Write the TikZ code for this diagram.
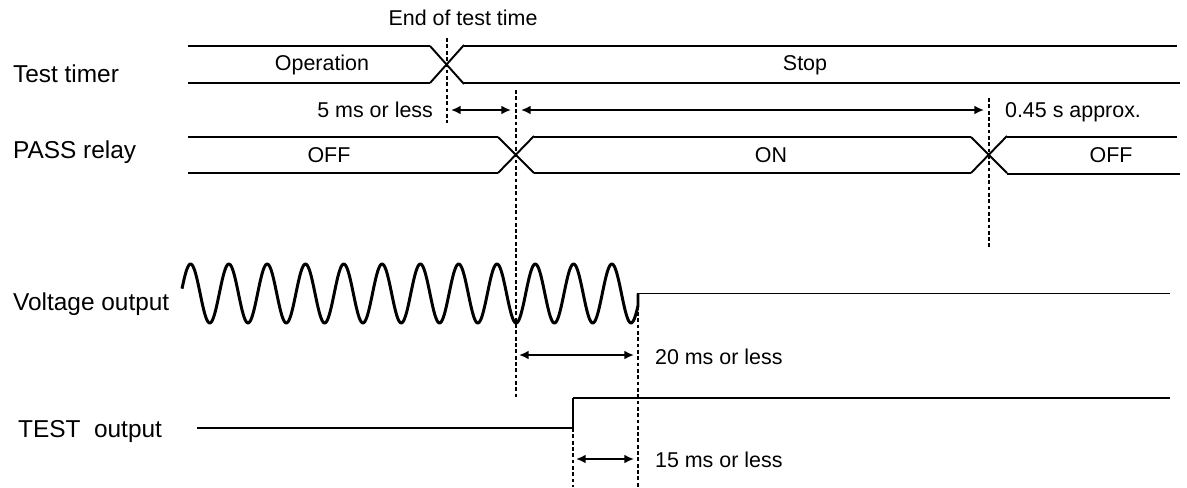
\documentclass[tikz,border=0pt]{standalone}
\usepackage{fontspec}
\setmainfont{Liberation Sans}
\usetikzlibrary{positioning, arrows.meta}
\tikzstyle{hiline} = [line width=1.7pt]
\tikzstyle{loline} = [line width=1.1pt]

\begin{document}
\begin{tikzpicture}[x=0.02cm, y=-0.02cm,
    every node/.style={font=\fontsize{12.2}{14.6}\selectfont, inner sep=1pt},
    edge/.style={line width=1.1pt},
    wave/.style={line width=1.7pt, line join=round},
    guide/.style={line width=0.9pt, dash pattern=on 2.2pt off 1.4pt},
    dim/.style={{Latex[length=5.5pt,width=5pt]}-{Latex[length=5.5pt,width=5pt]}, line width=1pt},
    siglabel/.style={anchor=base west, font=\fontsize{13.9}{16.6}\selectfont}]
    \useasboundingbox (0,0) rectangle (1187,487);

    % Signal names
    \node[siglabel] (ttimer) at (11,82) {Test timer};
    \node[siglabel] (prelay) at (11,158) {PASS relay};
    \node[siglabel] (vout) at (11,310) {Voltage output};
    \node[siglabel] (tout) at (16,437) {TEST\ \ output};

    % Test timer
    \draw[hiline] (188,46) -- (430,46);
    \draw[loline] (188,83) -- (430,83);
    \draw[edge] (430,46) -- (464,84);
    \draw[edge] (430,83) -- (464,45);
    \draw[hiline] (464,46) -- (1177,46);
    \draw[loline] (464,83) -- (1180,83);
    \node (operation) at (322,65) {Operation};
    \node (stop) at (805,65) {Stop};

    % PASS relay
    \draw[hiline] (188,137) -- (498,137);
    \draw[loline] (188,173) -- (498,173);
    \draw[edge] (498,137) -- (534,173);
    \draw[edge] (498,173) -- (534,136);
    \draw[hiline] (534,137) -- (971,137);
    \draw[loline] (534,173) -- (971,173);
    \draw[edge] (971,137) -- (1007,173);
    \draw[edge] (971,173) -- (1007,136);
    \draw[hiline] (1007,137) -- (1177,137);
    \draw[loline] (1007,174) -- (1180,174);
    \node (off1) at (329,155) {OFF};
    \node (on) at (771,155) {ON};
    \node (off2) at (1111,155) {OFF};

    % Voltage output
    \draw[wave] plot[domain=182:638, samples=500] (\x, {293.5 - 29.5*sin(9.3995*(\x-181))}) -- (638,293.5);
    \draw[loline] (638,293.5) -- (1170,293.5);

    % TEST output
    \draw[loline] (197,428) -- (573,428);
    \draw[loline] (573,428) -- (573,398);
    \draw[hiline] (573,398) -- (1170,398);

    % Time marks
    \draw[guide] (447,38) -- (447,123);
    \draw[guide] (516,90) -- (516,397);
    \draw[guide] (989,98) -- (989,248);
    \draw[guide] (638,293) -- (638,487);
    \draw[guide] (573,428) -- (573,487);
    \node (endtest) at (463,18) {End of test time};

    % Dimension arrows
    \coordinate (d5a) at (451,110);
    \coordinate (d5b) at (511,110);
    \coordinate (d45a) at (521,110);
    \coordinate (d45b) at (984,110);
    \coordinate (d20a) at (519,355);
    \coordinate (d20b) at (634,355);
    \coordinate (d15a) at (576,459);
    \coordinate (d15b) at (634,459);
    \draw[dim] (d5a) -- (d5b);
    \draw[dim] (d45a) -- (d45b);
    \draw[dim] (d20a) -- (d20b);
    \draw[dim] (d15a) -- (d15b);
    \node[anchor=east] (t5) at (435,110) {5 ms or less};
    \node[anchor=west] (t45) at (1003,112) {0.45 s approx.};
    \node[anchor=west] (t20) at (653,357) {20 ms or less};
    \node[anchor=west] (t15) at (653,460) {15 ms or less};

\end{tikzpicture}
\end{document}
